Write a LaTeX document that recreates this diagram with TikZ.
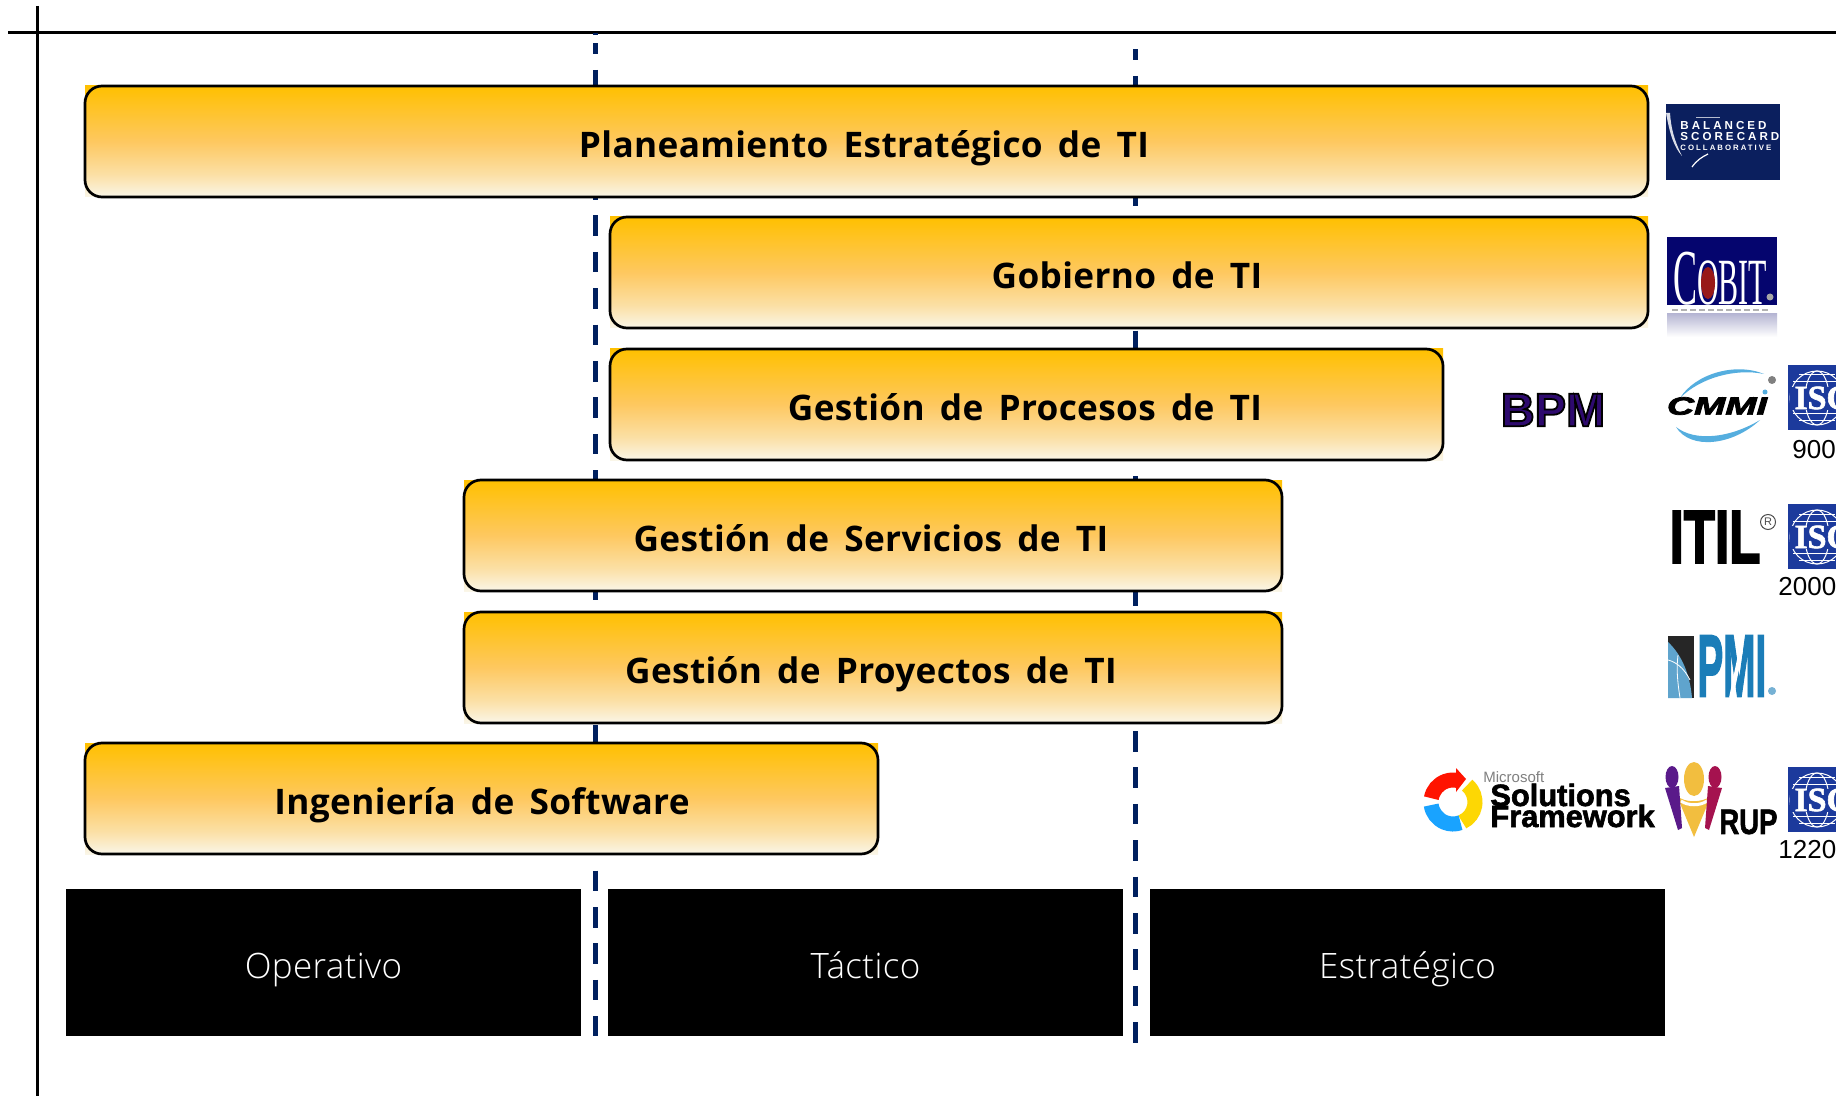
\documentclass[tikz,border=0pt]{standalone}
\usepackage{fontspec}
\setmainfont{Open Sans}
\newfontfamily\boxfont[WordSpace=1.6,LetterSpace=1.0]{Open Sans}
\newfontfamily\lightfont[LetterSpace=1]{Open Sans Light}
\newfontfamily\arialf{Liberation Sans}
\newfontfamily\arialsp[LetterSpace=26]{Liberation Sans}
\newfontfamily\timesf{Liberation Serif}
\usetikzlibrary{calc}
\definecolor{dashblue}{HTML}{00205F}
\definecolor{isoblue}{HTML}{1C3A9C}
\definecolor{bscnavy}{HTML}{0B1F5E}
\definecolor{cobitnavy}{HTML}{05056E}
\definecolor{pmiblue}{HTML}{1B7DB8}
\definecolor{swoosh}{HTML}{55AEDF}
\definecolor{cA}{HTML}{FFC000}
\definecolor{cC}{HTML}{FEC860}
\definecolor{cD}{HTML}{FBE0A6}
\definecolor{cE}{HTML}{FAF6E8}
\definecolor{ruppurple}{HTML}{5A1A8A}
\definecolor{rupcrim}{HTML}{A5124F}
\definecolor{rupgold}{HTML}{F2BE3F}
\pgfdeclareverticalshading{boxshade}{100bp}{
  color(0bp)=(cE); color(25bp)=(cE); color(35bp)=(cD); color(50bp)=(cC); color(75bp)=(cA); color(100bp)=(cA)}
\newcommand\heavy[2]{\special{pdf:code 2 Tr #1 w}#2\special{pdf:code 0 Tr}}
\tikzset{
  guide/.style={draw=dashblue,line width=2.5pt,dash pattern=on 10.3pt off 7.9pt},
  framebox/.style={draw=black,line width=1.35pt,rounded corners=8.5pt},
  boxlabel/.style={font=\boxfont\bfseries\fontsize{17.6}{20}\selectfont,text=black,inner sep=0pt,anchor=base},
  levelbox/.style={fill=black,text=white,font=\lightfont\fontsize{17.5}{20}\selectfont,inner sep=0pt,anchor=center,text height=17pt,text depth=1.5pt},
  axisline/.style={draw=black,line width=1.5pt},
  isonum/.style={font=\arialf\fontsize{13}{15}\selectfont,text=black,anchor=west,inner sep=0pt}
}
\newcommand\stagebox[7]{%
  \shade[shading=boxshade] (#2,#3) rectangle (#4,#5);
  \draw[framebox] (#2,#3) rectangle (#4,#5);
  \node[boxlabel] (#1) at (#7,#3+71.5) {#6};
}
\newcommand\isologo[2]{%
  \fill[isoblue] (1788,#2) rectangle (1840,#2+65);
  \begin{scope}[draw=white,line width=0.5pt]
    \draw (1817,#2+33) circle (27);
    \draw (1817,#2+33) ellipse (12 and 27);
    \draw (1793,#2+17) -- (1841,#2+17);
    \draw (1793,#2+49) -- (1841,#2+49);
    \draw (1799,#2+10) -- (1835,#2+10);
    \draw (1799,#2+56) -- (1835,#2+56);
  \end{scope}
  \fill[isoblue] (1790,#2+22) rectangle (1840,#2+45);
  \node[font=\timesf\bfseries\fontsize{17}{17}\selectfont,text=white,anchor=west,inner sep=0pt] (#1) at (1794,#2+33) {\heavy{0.3}{ISO}};
}
\begin{document}
\begin{tikzpicture}[x=0.5pt,y=-0.5pt]
\useasboundingbox (0,0) rectangle (1836,1096);
\clip (0,0) rectangle (1836,1096);
\fill[white] (0,0) rectangle (1836,1096);
% axes
\coordinate (hA) at (8,33); \coordinate (hB) at (1836,33);
\coordinate (vA) at (37,6); \coordinate (vB) at (37,1096);
\draw[axisline] (hA) -- (hB);
\draw[axisline] (vA) -- (vB);
% guides
\coordinate (g1a) at (595.5,33.4); \coordinate (g1b) at (595.5,1036);
\coordinate (g2a) at (1135.5,39.4); \coordinate (g2b) at (1135.5,1043);
\draw[guide] (g1a) -- (g1b);
\draw[guide] (g2a) -- (g2b);
\fill[white] (590,35) rectangle (601,43);
\fill[white] (1130,35) rectangle (1141,49);
% level boxes
\node[levelbox,minimum width=257.5pt,minimum height=73.5pt] (op) at (323.5,962.5) {Operativo};
\node[levelbox,minimum width=257.5pt,minimum height=73.5pt] (ta) at (865.5,962.5) {Táctico};
\node[levelbox,minimum width=257.5pt,minimum height=73.5pt] (es) at (1407.5,962.5) {Estratégico};
% stages
\stagebox{b1}{85}{86}{1648}{197}{Planeamiento Estratégico de TI}{864}
\stagebox{b2}{610}{217}{1648}{328}{Gobierno de TI}{1127}
\stagebox{b3}{610}{349}{1443}{460}{Gestión de Procesos de TI}{1025}
\stagebox{b4}{464}{480}{1282}{591}{Gestión de Servicios de TI}{871}
\stagebox{b5}{464}{612}{1282}{723}{Gestión de Proyectos de TI}{871}
\stagebox{b6}{85}{743}{878}{854}{Ingeniería de Software}{482}
% BSC logo
\fill[bscnavy] (1666,104) rectangle (1780,180);
\fill[white!85!bscnavy] (1666,113) .. controls (1670,135) and (1674,147) .. (1682,156) .. controls (1674,140) and (1671,128) .. (1670,113) -- cycle;
\draw[white,line width=0.6pt] (1692,167) .. controls (1697,160) and (1702,157) .. (1708,154);
\draw[white!70!bscnavy,line width=0.5pt] (1696,118) -- (1720,118);
\node[font=\arialsp\bfseries\fontsize{5.8}{6}\selectfont,text=white,anchor=west,inner sep=0pt] (bsc1) at (1680,126) {BALANCED};
\node[font=\arialsp\bfseries\fontsize{5.8}{6}\selectfont,text=white,anchor=west,inner sep=0pt] (bsc2) at (1680,137) {SCORECARD};
\node[font=\arialsp\bfseries\fontsize{3.9}{4}\selectfont,text=white,anchor=west,inner sep=0pt] (bsc3) at (1680,148) {COLLABORATIVE};
% COBIT logo
\fill[cobitnavy] (1667,237) rectangle (1777,305);
\node[font=\timesf\fontsize{30}{30}\selectfont,text=white,anchor=center,inner sep=0pt] (cobit) at (1720,279) {\scalebox{0.5}[1.1]{\fontsize{36}{36}\selectfont C\fontsize{30}{30}\selectfont OBIT}};
\fill[red!55!black!90!white] (1708,283) ellipse (7 and 16);
\fill[gray!70!white] (1770,297) circle (3.5);
\draw[gray!60,line width=0.6pt,dash pattern=on 3pt off 1.5pt] (1672,310) -- (1770,310);
\shade[top color=blue!25!gray!45!white,bottom color=white] (1667,314) rectangle (1777,337);
% CMMI
\fill[swoosh] (1680,398) .. controls (1695,374) and (1735,362) .. (1764,374) .. controls (1735,368) and (1700,378) .. (1680,398) -- cycle;
\fill[swoosh] (1676,427) .. controls (1690,450) and (1732,446) .. (1760,420) .. controls (1730,438) and (1695,442) .. (1676,427) -- cycle;
\fill[swoosh] (1765,392) circle (2.5);
\node[font=\arialf\bfseries\itshape\fontsize{12.5}{12}\selectfont,text=black,inner sep=0pt] (cmmi) at (1717,406) {\scalebox{1.5}[1]{\heavy{0.35}{CMMI}}};
\fill[gray] (1772,380) circle (4);
% ISO logos and numbers
\isologo{iso1}{365}
\node[isonum] (n1) at (1792,450) {900};
\isologo{iso2}{504}
\node[isonum] (n2) at (1778,587) {2000};
\isologo{iso3}{767}
\node[isonum] (n3) at (1778,850) {1220};
% BPM
\node[font=\arialf\bfseries\fontsize{23.5}{24}\selectfont,inner sep=0pt] (bpm) at (1553,410) {\special{pdf:code 2 Tr 0.9 w 0 0 0 RG 0.18 0.04 0.43 rg}BPM\special{pdf:code 0 Tr}};
% ITIL
\node[font=\arialf\bfseries\fontsize{37.5}{38}\selectfont,text=black,inner sep=0pt] (itil) at (1715,537) {\scalebox{0.68}[1]{\heavy{1.1}{ITIL}}};
\draw[black!70,line width=0.5pt] (1768,522) circle (7.5);
\node[font=\arialf\fontsize{5.5}{5}\selectfont,text=black!70,inner sep=0pt] (itilr) at (1768,522) {R};
% PMI
\fill[black!85] (1668,636) -- (1694,636) -- (1694,698) -- (1668,698) -- cycle;
\fill[pmiblue!70!white] (1668,642) .. controls (1682,655) and (1690,675) .. (1692,698) -- (1668,698) -- cycle;
\draw[white,line width=0.4pt] (1668,660) .. controls (1676,662) and (1684,668) .. (1690,680);
\draw[white,line width=0.4pt] (1678,655) .. controls (1676,670) and (1678,685) .. (1680,698);
\node[font=\arialf\bfseries\fontsize{44}{44}\selectfont,text=pmiblue,anchor=west,inner sep=0pt] (pmi) at (1697,666) {\scalebox{0.44}[1]{\heavy{1.0}{PMI}}};
\draw[white,line width=2pt] (1731,698) -- (1741,650);
\fill[pmiblue!60!white] (1772,691) circle (4);
% MSF
\draw[red!85!orange,line width=7.5pt] (1453,802) ++(190:22) arc (190:285:22);
\fill[red!85!orange] (1456,768) -- (1466,779) -- (1456,792) -- cycle;
\draw[yellow!75!orange,line width=7.5pt] (1453,802) ++(310:22) arc (310:425:22);
\draw[blue!40!cyan!90!white,line width=7.5pt] (1453,802) ++(172:22) arc (172:70:22);
\node[font=\arialf\fontsize{7.5}{8}\selectfont,text=gray,anchor=west,inner sep=0pt] (msfa) at (1483,777) {Microsoft};
\node[font=\arialf\bfseries\fontsize{15.4}{16}\selectfont,text=black,anchor=west,inner sep=0pt] (msfb) at (1490,795) {\heavy{0.3}{Solutions}};
\node[font=\arialf\bfseries\fontsize{15.4}{16}\selectfont,text=black,anchor=west,inner sep=0pt] (msfc) at (1490,816) {\heavy{0.3}{Framework}};
% RUP
\fill[rupgold] (1694,779) ellipse (10 and 17);
\fill[rupgold] (1677,796) .. controls (1685,803) and (1702,803) .. (1711,796) -- (1694,837) -- cycle;
\draw[white,line width=1.5pt] (1681,801) .. controls (1688,806) and (1700,806) .. (1707,801);
\fill[ruppurple] (1672,777) ellipse (6.5 and 11);
\fill[ruppurple] (1665,788) -- (1679,786) -- (1682,828) -- (1678,830) -- cycle;
\fill[rupcrim] (1715,777) ellipse (6.5 and 11);
\fill[rupcrim] (1722,788) -- (1708,786) -- (1705,828) -- (1709,830) -- cycle;
\node[font=\arialf\bfseries\fontsize{16}{16}\selectfont,text=black,anchor=west,inner sep=0pt] (rup) at (1719,822) {\scalebox{0.86}[1.1]{\heavy{0.3}{RUP}}};
\end{tikzpicture}
\end{document}
